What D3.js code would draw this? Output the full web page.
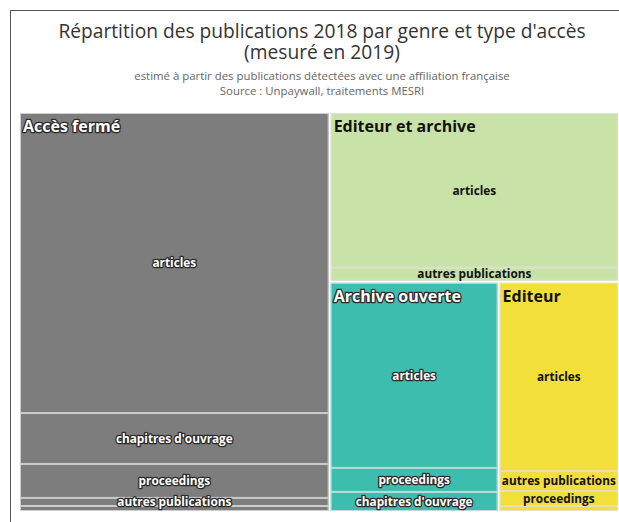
<!DOCTYPE html>
<html>
<head>
<meta charset="utf-8">
<script src="https://cdn.jsdelivr.net/npm/d3@7"></script>
<style>
  html, body { margin: 0; padding: 0; background: #fff; }
  svg { display: block; }
</style>
</head>
<body>
<svg id="chart" width="619" height="522"></svg>
<script>
// ---- data (share of 2018 publications, %) ----
const titleLines = ["Répartition des publications 2018 par genre et type d'accès", "(mesuré en 2019)"];
const subtitleLines = ["estimé à partir des publications détectées avec une affiliation française", "Source : Unpaywall, traitements MESRI"];

const accessTypes = ["Accès fermé", "Editeur et archive", "Archive ouverte", "Editeur"];

const accesFermeGenres = ["articles", "chapitres d'ouvrage", "proceedings", "autres publications", "ouvrages"];
const accesFermeValues = [38.9, 6.6, 4.4, 1.05, 0.65];

const editeurArchiveGenres = ["articles", "autres publications"];
const editeurArchiveValues = [18.8, 1.6];

const archiveOuverteGenres = ["articles", "proceedings", "chapitres d'ouvrage"];
const archiveOuverteValues = [13.1, 1.7, 1.35];

const editeurGenres = ["articles", "autres publications", "proceedings", "ouvrages"];
const editeurValues = [9.5, 1.0, 0.76, 0.25];

// ---- styles ----
const typeColors = ["#7d7d7d", "#c8e2a8", "#3dbdae", "#f2df39"];
const darkTypes = ["Accès fermé", "Archive ouverte"];

const genresByType = [accesFermeGenres, editeurArchiveGenres, archiveOuverteGenres, editeurGenres];
const valuesByType = [accesFermeValues, editeurArchiveValues, archiveOuverteValues, editeurValues];

const tree = {
  name: "root",
  children: accessTypes.map((t, i) => ({
    name: t,
    children: genresByType[i].map((g, j) => ({ name: g, value: valuesByType[i][j] }))
  }))
};

const svg = d3.select("#chart");
const font = "'Open Sans', 'DejaVu Sans', sans-serif";

// frame
svg.append("rect").attr("x", 10.5).attr("y", 10.5).attr("width", 640).attr("height", 540)
  .attr("fill", "#fff").attr("stroke", "#555").attr("stroke-width", 1);

// title
const title = svg.append("text").attr("text-anchor", "middle")
  .attr("font-family", font).attr("font-size", 19.2).attr("fill", "#333");
titleLines.forEach((l, i) => title.append("tspan").attr("x", 322).attr("y", 38 + i * 21).text(l));

const sub = svg.append("text").attr("text-anchor", "middle")
  .attr("font-family", font).attr("font-size", 11.4).attr("fill", "#666");
subtitleLines.forEach((l, i) => sub.append("tspan").attr("x", 322).attr("y", 80 + i * 15).text(l));

// treemap
const x0 = 20, y0 = 113, x1 = 618, y1 = 511;
const color = d3.scaleOrdinal(accessTypes, typeColors);

function tile(node, a, b, c, d) {
  if (node.depth === 0) d3.treemapSquarify.ratio(1)(node, a, b, c, d);
  else d3.treemapSlice(node, a, b, c, d);
}

const root = d3.hierarchy(tree)
  .sum(d => d.value || 0)
  .sort((a, b) => b.value - a.value);

d3.treemap()
  .tile(tile)
  .size([x1 - x0, y1 - y0])
  .paddingInner(n => n.depth === 0 ? 2 : 0)
  .round(false)(root);

const g = svg.append("g").attr("transform", `translate(${x0},${y0})`);

const groups = root.children;

g.selectAll("rect.group").data(groups).join("rect")
  .attr("class", "group")
  .attr("x", d => d.x0).attr("y", d => d.y0)
  .attr("width", d => d.x1 - d.x0).attr("height", d => d.y1 - d.y0)
  .attr("fill", d => color(d.data.name));

g.selectAll("rect.leaf").data(root.leaves()).join("rect")
  .attr("class", "leaf")
  .attr("x", d => d.x0 + 0.5).attr("y", d => d.y0 + 0.5)
  .attr("width", d => Math.max(0, d.x1 - d.x0 - 1)).attr("height", d => Math.max(0, d.y1 - d.y0 - 1))
  .attr("fill", d => color(d.parent.data.name))
  .attr("stroke", "#e2e2e2").attr("stroke-opacity", 0.8).attr("stroke-width", 1);

function styleLabel(sel, dark) {
  if (dark) {
    sel.attr("fill", "#fff").attr("stroke", "#2a2a2a").attr("stroke-width", 2.6)
      .attr("stroke-linejoin", "round").attr("paint-order", "stroke");
  } else {
    sel.attr("fill", "#111");
  }
}

// leaf labels
root.leaves().filter(d => d.y1 - d.y0 >= 6).forEach(d => {
  const dark = darkTypes.includes(d.parent.data.name);
  const t = g.append("text")
    .attr("x", (d.x0 + d.x1) / 2).attr("y", (d.y0 + d.y1) / 2)
    .attr("dy", "0.36em")
    .attr("text-anchor", "middle")
    .attr("font-family", font).attr("font-size", 11.8).attr("font-weight", "bold")
    .text(d.data.name);
  styleLabel(t, dark);
});

// group labels
groups.forEach(d => {
  const dark = darkTypes.includes(d.data.name);
  const t = g.append("text")
    .attr("x", d.x0 + 3).attr("y", d.y0 + 19)
    .attr("font-family", font).attr("font-size", 16).attr("font-weight", "bold")
    .text(d.data.name);
  styleLabel(t, dark);
});
</script>
</body>
</html>
